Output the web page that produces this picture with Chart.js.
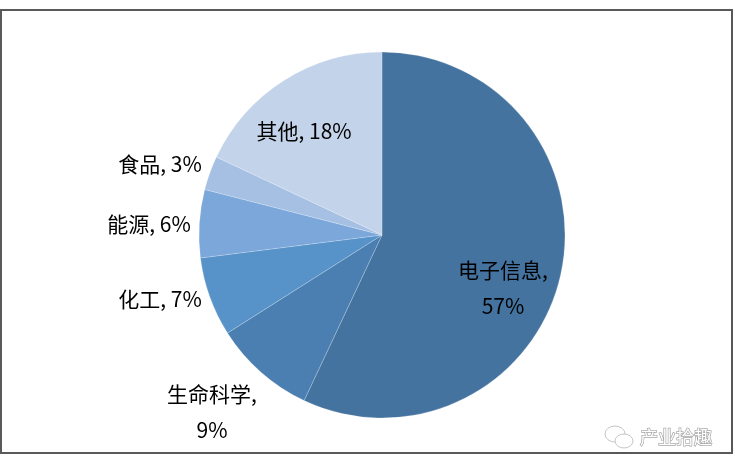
<!DOCTYPE html>
<html lang="zh">
<head>
<meta charset="utf-8">
<title>产业分布</title>
<script src="https://cdn.jsdelivr.net/npm/chart.js@4"></script>
<style>
    html, body { margin: 0; padding: 0; background: #fff; }
    #wrap { position: relative; width: 735px; height: 470px; overflow: hidden; }
    #frame { position: absolute; left: 0; top: 9px; width: 729px; height: 441px; border: 2px solid #595959; }
    canvas { position: absolute; left: 0; top: 0; }
</style>
</head>
<body>
<div id="wrap">
    <div id="frame"></div>
    <canvas id="chart-share" width="735" height="470"></canvas>
</div>
<script>
var categories = ['电子信息', '生命科学', '化工', '能源', '食品', '其他'];
var shares = [57, 9, 7, 6, 3, 18];
var watermark = '产业拾趣';

(function () {
    'use strict';

    var sliceColors = ['#44739f', '#4c7fb1', '#5793c9', '#7ba7da', '#a5c0e2', '#c3d3ea'];
    var labelFont = '21px "Noto Sans CJK SC", "Open Sans", sans-serif';

    // label centre relative to the pie centre, in radii; wrap = two lines
    var labelPlace = [
        { x: 0.661, y: 0.290, wrap: true },
        { x: -0.929, y: 0.967, wrap: true },
        { x: -1.213, y: 0.350 },
        { x: -1.273, y: -0.060 },
        { x: -1.213, y: -0.388 },
        { x: -0.426, y: -0.568 }
    ];
    var lineGap = 36;

    var sliceLabels = {
        id: 'sliceLabels',
        afterDatasetsDraw: function (chart) {
            var ctx = chart.ctx;
            var arcs = chart.getDatasetMeta(0).data;
            ctx.save();
            ctx.font = labelFont;
            ctx.fillStyle = '#000';
            ctx.textAlign = 'center';
            ctx.textBaseline = 'middle';
            arcs.forEach(function (arc, i) {
                var place = labelPlace[i];
                var x = arc.x + place.x * arc.outerRadius;
                var y = arc.y + place.y * arc.outerRadius;
                if (place.wrap) {
                    ctx.fillText(categories[i] + ',', x, y - lineGap / 2);
                    ctx.fillText(shares[i] + '%', x, y + lineGap / 2);
                } else {
                    ctx.fillText(categories[i] + ', ' + shares[i] + '%', x, y);
                }
            });
            ctx.restore();
        }
    };

    var watermarkMark = {
        id: 'watermarkMark',
        afterDraw: function (chart) {
            var ctx = chart.ctx;
            ctx.save();
            ctx.strokeStyle = '#c4c4c4';
            ctx.lineWidth = 1;
            ctx.beginPath();
            ctx.ellipse(615, 434, 10, 8, 0, 0, Math.PI * 2);
            ctx.stroke();
            ctx.fillStyle = '#fff';
            ctx.beginPath();
            ctx.ellipse(624, 441, 9, 7, 0, 0, Math.PI * 2);
            ctx.fill();
            ctx.stroke();
            ctx.font = '18px "Noto Sans CJK SC", sans-serif';
            ctx.textAlign = 'left';
            ctx.textBaseline = 'middle';
            ctx.fillStyle = '#fff';
            ctx.strokeStyle = '#a8a8a8';
            ctx.lineWidth = 1.4;
            ctx.strokeText(watermark, 640, 437);
            ctx.fillText(watermark, 640, 437);
            ctx.restore();
        }
    };

    new Chart(document.getElementById('chart-share').getContext('2d'), {
        type: 'pie',
        data: {
            labels: categories,
            datasets: [{
                data: shares,
                backgroundColor: sliceColors,
                borderColor: 'rgba(255,255,255,0.2)',
                borderWidth: 1
            }]
        },
        options: {
            responsive: false,
            animation: false,
            radius: 183,
            layout: { padding: { left: 29 } },
            plugins: {
                legend: { display: false },
                tooltip: { enabled: false }
            }
        },
        plugins: [sliceLabels, watermarkMark]
    });
})();
</script>
</body>
</html>
